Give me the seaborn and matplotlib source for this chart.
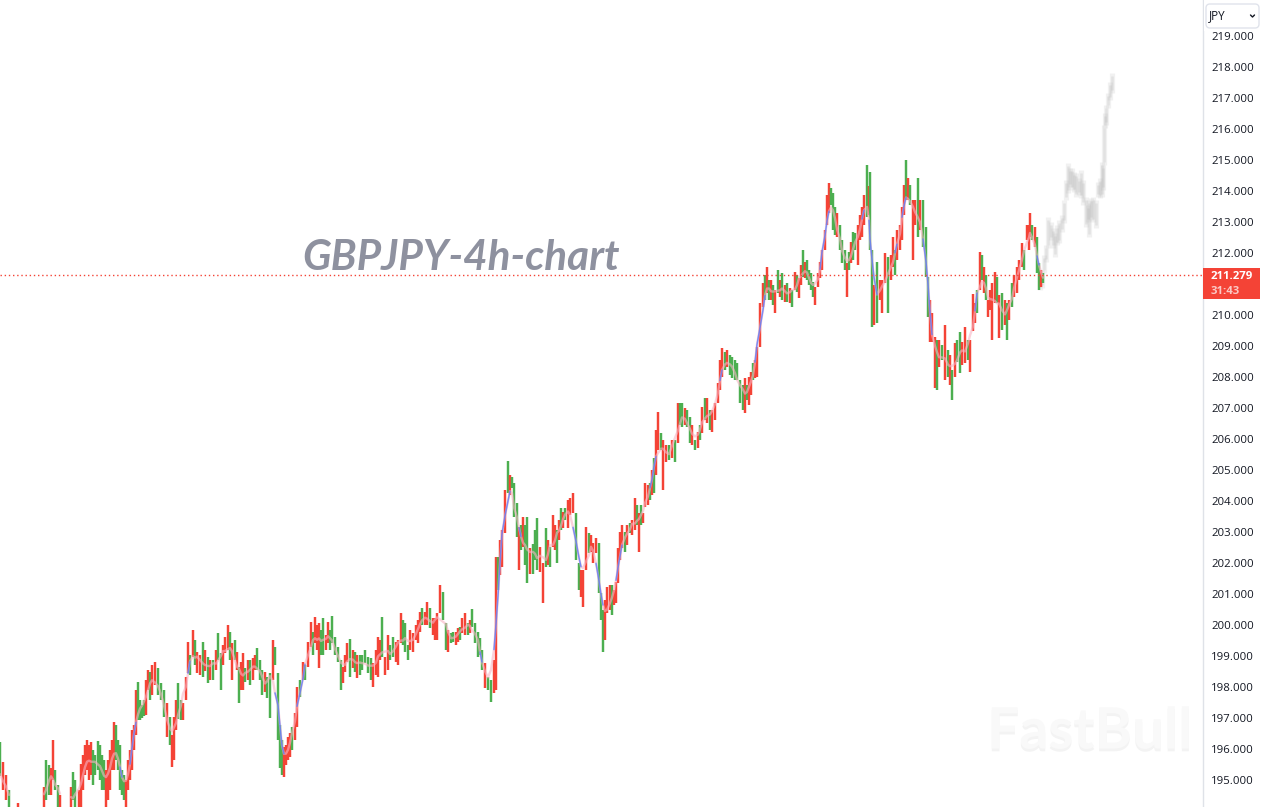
import matplotlib
matplotlib.use("Agg")
import matplotlib.pyplot as plt
from matplotlib.patches import FancyBboxPatch, Rectangle
import matplotlib.patheffects as pe
import numpy as np
import pandas as pd
import seaborn as sns

bar_no = [
0,3,6,9,18,44,46,49,51,53,
55,58,60,71,73,75,79,81,83,85,
87,89,91,93,95,98,100,102,104,106,
108,110,112,114,116,118,120,122,124,126,
128,130,132,134,136,138,140,142,144,146,
148,150,152,155,158,161,164,167,170,172,
174,176,178,181,183,186,188,190,193,195,
197,200,203,205,208,210,213,216,218,221,
223,225,228,230,232,235,237,239,241,243,
245,248,250,253,255,257,260,262,265,267,
270,273,275,278,280,282,284,286,288,290,
292,295,297,300,303,305,308,311,313,315,
317,319,321,323,326,328,330,332,335,338,
341,343,345,347,350,353,355,357,360,362,
365,368,371,373,376,378,380,382,385,388,
390,393,396,398,401,403,405,408,410,413,
416,418,420,422,425,427,430,433,435,437,
440,443,446,448,451,453,456,458,460,462,
465,468,470,472,475,478,480,482,485,488,
491,494,496,498,500,502,505,508,510,512,
514,517,519,521,523,525,527,530,533,535,
537,540,543,546,548,550,553,555,557,559,
561,563,565,568,570,573,576,579,581,583,
586,589,591,593,596,599,601,603,605,607,
610,612,614,616,618,620,622,625,627,630,
632,635,637,639,641,643,645,648,650,652,
654,656,658,661,663,666,669,672,675,678,
680,682,685,687,690,692,695,698,700,702,
705,707,710,712,715,718,720,722,725,727,
730,732,735,737,740,743,745,747,749,751,
753,755,757,760,763,765,767,769,771,773,
775,778,780,782,785,787,790,792,795,797,
799,801,803,805,807,809,811,813,815,818,
820,822,825,827,829,831,833,835,837,840,
842,845,847,849,851,853,855,858,860,862,
864,867,869,870,872,874,877,880,882,885,
888,891,893,895,897,900,902,904,906,908,
910,913,915,918,920,923,926,928,930,932,
935,937,939,942,945,948,950,952,955,957,
960,962,965,968,970,973,975,977,980,982,
984,986,988,990,992,995,997,999,1002,1005,
1007,1009,1012,1014,1017,1019,1022,1024,1027,1029,
1030,1032,1035,1037,1039,1041,1043]

high = [
196.23,195.58,195.16,194.68,194.26,194.77,195.65,195.48,195.39,196.29,
195.32,194.84,194.52,194.77,195.26,195.00,194.68,195.52,195.81,196.13,
196.29,196.13,196.23,195.97,195.81,196.26,196.13,195.81,195.65,195.32,
195.65,195.97,196.29,196.87,196.77,196.29,196.13,195.32,195.16,195.00,
195.65,195.97,196.61,196.77,197.90,198.16,197.58,197.42,197.58,198.23,
198.55,198.48,198.71,198.81,198.61,198.13,197.90,197.48,197.03,196.45,
197.03,197.58,198.13,197.58,197.48,198.32,199.45,199.03,199.84,199.52,
199.13,199.03,199.45,199.19,198.97,198.87,198.87,199.19,199.74,199.10,
199.35,199.61,200.00,199.77,199.42,199.52,199.13,198.65,198.81,199.10,
198.61,198.87,198.87,198.94,199.03,199.26,198.87,198.55,198.48,198.32,
198.45,199.52,199.29,198.45,196.77,196.29,196.06,196.13,196.39,196.52,
196.71,197.16,198.00,198.23,198.81,198.71,199.45,200.10,199.77,200.26,
200.00,200.06,199.84,200.23,199.68,200.10,199.84,200.29,199.61,199.29,
198.87,198.65,199.03,199.42,199.55,199.19,199.13,199.03,199.03,199.03,
199.19,198.97,198.94,198.77,199.19,199.61,199.52,200.26,198.97,199.68,
199.35,199.61,199.45,199.52,200.39,200.16,200.06,199.35,199.84,199.74,
200.00,200.16,200.42,200.55,200.42,200.74,200.55,200.23,200.23,200.39,
201.29,201.06,200.06,199.84,199.74,199.77,199.77,199.90,199.93,200.23,
200.39,200.06,200.16,200.52,200.06,199.77,199.58,199.19,198.77,198.32,
198.23,198.87,202.19,202.19,202.74,203.06,204.35,205.29,204.84,204.77,
204.58,203.94,203.16,203.23,203.48,203.23,203.48,202.48,202.61,203.06,
203.45,202.52,202.00,203.13,202.74,202.52,203.55,203.23,203.06,203.39,
203.77,203.65,203.77,204.03,204.10,204.26,203.61,202.00,201.77,201.77,
203.16,202.97,202.90,202.65,202.81,202.65,201.03,200.48,200.81,201.23,
201.29,201.29,201.13,201.39,202.48,203.00,203.23,203.00,203.23,203.29,
203.39,204.10,203.87,203.61,203.87,203.61,204.58,204.52,204.58,205.00,
205.39,206.29,206.87,206.19,205.97,205.81,205.81,205.97,205.97,207.16,
207.16,207.16,207.00,206.94,206.71,206.45,205.97,206.23,206.45,207.03,
207.32,207.32,206.94,206.94,207.16,207.81,208.55,208.94,208.81,208.87,
208.71,208.65,208.55,208.45,207.90,207.74,207.97,207.74,208.00,208.16,
208.45,208.55,208.97,210.39,211.03,211.29,211.55,211.13,211.13,210.97,
210.81,211.45,211.13,211.35,210.97,211.03,210.87,210.81,211.39,211.29,
211.19,211.61,212.10,211.71,211.77,211.45,211.35,211.06,210.90,211.35,
211.71,212.10,212.74,213.87,214.26,214.10,213.94,213.48,213.29,212.90,
212.42,212.10,211.68,212.03,212.35,212.68,212.65,212.90,213.23,213.48,
213.87,214.84,214.16,214.61,212.10,210.97,211.71,211.13,211.13,212.00,
211.87,211.94,212.52,212.10,212.74,212.90,213.48,214.19,215.00,214.42,
214.19,213.71,213.71,214.42,213.71,213.71,212.84,211.23,210.48,210.06,
209.29,209.19,209.19,209.03,209.68,208.87,208.71,208.23,209.10,209.19,
209.45,209.13,209.61,209.19,209.19,210.68,210.39,210.81,212.03,211.94,
211.55,211.29,210.48,210.81,211.03,211.39,211.23,210.65,210.71,210.48,
210.39,210.48,211.03,211.29,211.55,211.77,212.32,212.10,212.90,212.90,
213.29,212.90,212.84,212.52,211.68,211.45,211.35]

low = [
195.13,194.68,194.35,193.87,193.97,193.87,194.35,194.52,194.52,195.00,
194.68,194.13,193.87,193.87,194.35,193.87,193.87,194.13,194.68,195.16,
195.32,195.00,195.16,194.84,195.16,195.32,195.00,194.68,194.68,194.13,
194.35,194.68,195.32,195.32,195.65,195.32,194.68,194.52,194.35,194.13,
194.68,195.00,195.32,195.97,196.45,196.94,196.94,197.00,197.06,197.10,
197.90,197.58,197.74,198.06,197.74,197.58,197.03,196.39,196.13,195.42,
195.65,196.61,196.97,196.94,196.94,197.58,198.45,198.39,198.97,198.71,
198.45,198.39,198.32,198.52,198.13,198.23,198.23,198.55,198.87,197.90,
198.71,199.10,199.19,198.87,198.23,198.87,198.55,197.48,197.90,197.90,
198.16,198.23,198.06,198.23,198.55,198.55,198.23,197.74,197.84,197.65,
197.00,198.23,198.71,196.29,195.39,195.16,195.10,195.48,195.65,195.74,
195.97,196.29,196.71,197.68,198.23,198.23,198.65,199.29,199.03,199.42,
199.19,198.61,199.03,199.03,199.19,199.42,199.19,199.42,199.03,198.81,
197.90,198.13,198.48,198.81,198.32,198.61,198.48,198.29,198.39,198.55,
198.77,198.45,198.23,198.00,198.39,198.32,198.87,198.97,198.39,198.55,
198.87,198.97,198.81,198.71,199.42,199.35,199.13,198.87,199.19,199.13,
199.52,199.42,199.77,200.00,200.00,200.00,199.90,199.68,199.52,199.52,
200.39,200.16,199.19,199.13,199.42,199.45,199.35,199.45,199.52,199.74,
199.68,199.68,199.74,199.94,199.42,198.97,199.03,198.55,197.97,197.90,
197.52,197.81,197.90,201.13,201.61,201.87,202.97,204.26,204.19,204.42,
203.48,202.84,201.77,202.42,202.52,201.94,201.35,201.65,201.65,202.10,
201.77,201.71,200.71,201.87,201.94,201.87,202.52,202.42,202.00,202.74,
203.06,203.13,203.39,203.13,203.55,203.61,202.10,201.13,200.90,200.58,
201.77,202.32,202.35,202.00,202.32,201.03,200.16,199.13,199.52,200.39,
200.48,200.32,200.65,200.71,201.35,202.10,202.48,202.35,202.58,202.97,
202.90,203.06,203.23,202.35,203.23,203.29,203.81,203.87,204.03,204.19,
204.26,204.84,205.65,205.65,204.35,205.26,205.32,205.39,205.26,205.87,
206.45,206.39,206.45,206.39,205.87,205.81,205.65,205.71,205.97,206.19,
206.61,206.52,206.29,206.23,206.61,207.16,207.58,208.00,208.23,208.32,
208.06,207.97,207.90,207.90,207.16,206.94,206.84,207.26,207.10,207.42,
207.90,207.97,208.00,208.97,210.26,210.48,210.71,210.48,210.48,210.32,
210.06,210.71,210.58,210.48,210.42,210.42,210.39,210.26,210.81,210.74,
210.55,210.97,211.23,211.19,211.13,210.97,210.81,210.58,210.32,210.90,
211.19,211.45,212.10,212.90,213.29,213.55,212.74,212.58,212.52,212.10,
211.68,211.45,210.58,211.45,211.68,211.77,212.10,211.61,212.42,212.52,
212.90,213.16,213.23,212.10,209.61,209.68,209.74,210.48,210.06,211.03,
210.06,211.13,211.55,211.29,211.77,212.10,212.42,213.23,213.71,213.71,
213.55,211.77,212.90,212.52,212.74,212.19,211.23,209.94,209.13,209.13,
207.65,207.58,208.32,208.55,207.90,208.00,207.74,207.26,208.00,208.48,
208.13,208.39,208.45,208.55,208.16,209.48,209.74,210.06,210.81,211.13,
210.71,210.48,209.94,210.16,209.19,210.39,210.39,209.26,209.52,209.68,
209.19,209.84,210.26,210.58,210.71,211.13,211.55,211.45,212.42,212.10,
212.52,212.42,212.19,211.35,210.81,210.90,211.03]

direction = list(
"grrgrrggrr"
"ggrrggrrrr"
"rrrggggggr"
"rrrrgggggr"
"rrrrrggggr"
"rgrrgggrgr"
"rrggrrrgrg"
"rrgrgrgrgg"
"rrrgrgrgrr"
"grgrrgggrg"
"grggggrrrr"
"grrgrgrrgr"
"rrggrrgggg"
"grrrgrgrgg"
"gggrrrrgrr"
"ggrrrgggrr"
"rrrgrrgrrr"
"rggrggrrgr"
"rgrgggggrg"
"grrgrrrgrg"
"ggrgrggrgg"
"grrgrgrrgr"
"grgrrrggrr"
"rgrrrgggrr"
"rgrrrrrgrg"
"rrgrgrrrgr"
"grrgrrgrgr"
"ggrggrgrgr"
"grgrrrrrgr"
"ggggggrgrr"
"grrrrgrgrg"
"rgrgrgrgrg"
"rrgrggggrr"
"rrrrrgggrg"
"ggrgrggrrr"
"rgrggrgrrr"
"grrgrrrrgr"
"grrgrgggrr"
"rgrgrgrgrg"
"grrgrrrgrg"
"rgrrrrgrgr"
"grgrrrrgrr"
"rgrggrg")

ghost_bar = [1040,1042,1044,1046,1048,1051,1053,1055,1057,1059,1062,1064,
             1066,1068,1070,1072,1074,1076,1079,1081,1083,1086,1088,1089,
             1091,1093,1096,1098,1100,1102,1103,1104,1105,1106,1108,1110,1112]
ghost_high = [211.23,211.45,211.94,212.26,213.16,213.00,212.81,212.65,212.90,213.06,213.23,213.71,
              214.35,214.90,214.74,214.74,214.61,214.58,214.42,214.68,214.35,213.81,213.55,213.71,
              213.77,213.81,213.71,214.29,214.42,214.94,214.84,216.13,216.52,216.77,217.16,217.52,217.81]
ghost_low = [210.81,210.87,211.35,211.71,212.16,212.42,212.16,211.87,212.26,212.32,212.68,212.97,
             213.71,213.94,214.13,214.03,213.97,213.81,213.87,213.77,213.55,212.84,213.00,212.52,
             213.06,213.00,212.81,213.81,213.77,213.81,214.03,214.84,216.03,216.13,216.68,216.94,217.16]

price_ticks = list(range(195, 220))
hidden_tick = 211
last_price = 211.279
countdown = "31:43"
title_text = "GBPJPY-4h-chart"
watermark = "FastBull"
currency = "JPY"

UP = "#f44336"
DOWN = "#4caf50"

sns.set_style("white")
plt.rcParams["font.family"] = ["Open Sans", "DejaVu Sans"]

W, H = 1261, 807
fig = plt.figure(figsize=(W / 100, H / 100), dpi=100, facecolor="white")
ax = fig.add_axes([0, 0, 1203 / W, 1])

df = pd.DataFrame({"bar": bar_no, "high": high, "low": low, "dir": direction})
df["mid"] = (df["high"] + df["low"]) / 2
df["ma"] = df["mid"].rolling(5, center=True, min_periods=1).mean()
df["step"] = df["bar"].diff().fillna(1)
slope = (df["ma"].diff().abs() / df["step"]).fillna(0)
df["seg"] = (df["step"] > 6).cumsum()
df["fast"] = slope > 0.13
df["fast_seg"] = (df["fast"] != df["fast"].shift()).cumsum()

gb, gh, gl = np.array(ghost_bar), np.array(ghost_high), np.array(ghost_low)
ax.vlines(gb, gl, gh, color="#c8c8c8", lw=3.8, alpha=0.24, zorder=1)
ax.vlines(gb, gl + 0.1, gh - 0.1, color="#b0b0b0", lw=1.9, alpha=0.22, zorder=1)

colors = [UP if d == "r" else DOWN for d in df["dir"]]
ax.vlines(df["bar"], df["low"], df["high"], colors=colors, lw=1.75, zorder=2)

sns.lineplot(data=df, x="bar", y="ma", units="seg", estimator=None, ax=ax, color="#f8b4c4",
             lw=1.7, alpha=0.6, sort=False, zorder=3)
sns.lineplot(data=df[df["fast"]], x="bar", y="ma", units="fast_seg", estimator=None, ax=ax,
             color="#5c7cfa", lw=1.1, alpha=0.8, sort=False, zorder=4)

ax.axhline(last_price, color=UP, lw=1, ls=(0, (1, 2)), zorder=5)

ax.set_xlim(0, 1203)
ax.set_ylim(219 - (H - 36) / 31, 219 + 36 / 31)
ax.set_xlabel("")
ax.set_ylabel("")
ax.set_xticks([])
ax.yaxis.tick_right()
ax.set_yticks(price_ticks)
ax.set_yticklabels(["" if p == hidden_tick else f"{p:.3f}" for p in price_ticks])
ax.tick_params(axis="y", length=0, pad=6, labelsize=8.2, labelcolor="#131722")
for name in ("top", "left", "bottom"):
    ax.spines[name].set_visible(False)
ax.spines["right"].set_color("#dfe2e8")
ax.spines["right"].set_linewidth(1)
ax.patch.set_alpha(0)

ov = fig.add_axes([0, 0, 1, 1], zorder=10)
ov.set_xlim(0, W)
ov.set_ylim(H, 0)
ov.axis("off")
ov.patch.set_alpha(0)

ov.add_patch(Rectangle((1204, 0), 57, 31, fc="white", ec="none"))
ov.add_patch(FancyBboxPatch((1206, 4), 53, 24, boxstyle="round,pad=0,rounding_size=4",
                            fc="white", ec="#e0e3eb", lw=1))
ov.text(1209, 15.5, currency, fontsize=8.4, color="#131722", va="center", ha="left")
ov.plot([1250.5, 1252.5, 1254.5], [15, 17, 15], color="#131722", lw=1)

ov.add_patch(Rectangle((1203, 268), 57, 31, fc=UP, ec="none"))
ov.text(1211, 276.5, f"{last_price:.3f}", color="white", fontsize=8.2, fontweight="bold",
        ha="left", va="center")
ov.text(1211, 291.5, countdown, color="#fbc9c5", fontsize=8.2, fontweight="bold",
        ha="left", va="center")

ov.text(461.5, 258.5, title_text, fontsize=30.4, fontweight="bold", fontstyle="italic",
        family="Lato", color="#8e919f", ha="center", va="center")

wm = ov.text(1090, 732, watermark, fontsize=41, fontweight="bold", color="#f9f9f9",
             family="Lato", ha="center", va="center")
wm.set_path_effects([pe.withSimplePatchShadow(offset=(0, -2), shadow_rgbFace="#dddddd", alpha=0.35)])

fig.savefig("out.png", dpi=100, facecolor="white")
